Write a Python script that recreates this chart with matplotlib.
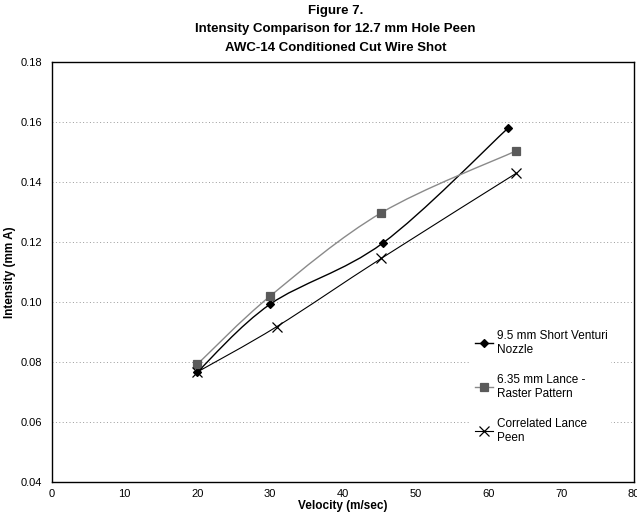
import numpy as np
import matplotlib
matplotlib.use("Agg")
import matplotlib.pyplot as plt
from matplotlib.path import Path
from matplotlib.patches import PathPatch
from matplotlib.lines import Line2D

plt.rcParams['font.family'] = ['Liberation Sans', 'DejaVu Sans']

# data
venturi_x = [20, 30, 45.5, 62.7]
venturi_y = [0.0767, 0.0993, 0.1197, 0.158]
lance_x = [20, 30, 45.3, 63.8]
lance_y = [0.0793, 0.102, 0.1298, 0.1504]
corr_x = [20, 30.9, 45.3, 63.8]
corr_y = [0.0767, 0.0918, 0.1146, 0.1429]

labels = ["9.5 mm Short Venturi\nNozzle", "6.35 mm Lance -\nRaster Pattern", "Correlated Lance\nPeen"]


def smooth_path(xs, ys):
    # excel style smoothed line: cubic bezier through the points
    p = np.column_stack([xs, ys])
    n = len(p)
    verts = [p[0]]
    codes = [Path.MOVETO]
    for i in range(n - 1):
        p0 = p[i - 1] if i > 0 else p[i]
        p3 = p[i + 2] if i + 2 < n else p[i + 1]
        c1 = p[i] + (p[i + 1] - p0) / 6
        c2 = p[i + 1] - (p3 - p[i]) / 6
        verts += [c1, c2, p[i + 1]]
        codes += [Path.CURVE4] * 3
    return Path(verts, codes)


fig = plt.figure(figsize=(6.37, 5.18), dpi=100)
ax = fig.add_axes([0.0816, 0.0695, 0.9134, 0.8105])

ax.set_xlim(0, 80)
ax.set_ylim(0.04, 0.18)
ax.set_xticks(range(0, 81, 10))
ax.set_yticks(np.arange(0.04, 0.181, 0.02))
ax.yaxis.set_major_formatter(matplotlib.ticker.FormatStrFormatter('%.2f'))
ax.tick_params(length=0, labelsize=8)
ax.tick_params(axis='y', pad=7)
ax.tick_params(axis='x', pad=5)
for y in np.arange(0.06, 0.17, 0.02):
    ax.axhline(y, color='#9a9a9a', lw=0.7, ls=(0, (1, 2.5)), zorder=0)

for s in ax.spines.values():
    s.set_linewidth(1.0)

series = [
    (venturi_x, venturi_y, 'black', 'D', 'black', 4.5, 1.0),
    (lance_x, lance_y, '#8a8a8a', 's', '#5a5a5a', 5.5, 1.0),
    (corr_x, corr_y, 'black', 'x', 'black', 7, 0.8),
]
handles = []
for (xs, ys, lc, mk, mc, ms, lw), lab in zip(series, labels):
    ax.add_patch(PathPatch(smooth_path(xs, ys), fill=False, edgecolor=lc, lw=lw, zorder=2))
    ax.plot(xs, ys, ls='none', marker=mk, color=mc, ms=ms, mew=0.9, zorder=3)
    handles.append(Line2D([], [], color=lc, lw=lw, marker=mk, mfc=mc, mec=mc, ms=ms, mew=0.9))

leg = ax.legend(handles, labels, loc='upper left', bbox_to_anchor=(0.71, 0.385),
                frameon=True, fontsize=8.5, handlelength=1.6, handletextpad=0.3,
                labelspacing=1.55, borderpad=0.3)
leg.get_frame().set_edgecolor('none')
leg.get_frame().set_facecolor('white')
leg.get_frame().set_alpha(1)

ax.set_xlabel('Velocity (m/sec)', fontsize=8.5, fontweight='bold', labelpad=1)
ax.set_ylabel('Intensity (mm A)', fontsize=8.5, fontweight='bold', labelpad=3)

fig.text(0.527, 0.99, 'Figure 7.\nIntensity Comparison for 12.7 mm Hole Peen\nAWC-14 Conditioned Cut Wire Shot',
         ha='center', va='top', fontsize=9.5, fontweight='bold', linespacing=1.7)

fig.savefig('out.png', dpi=100)
